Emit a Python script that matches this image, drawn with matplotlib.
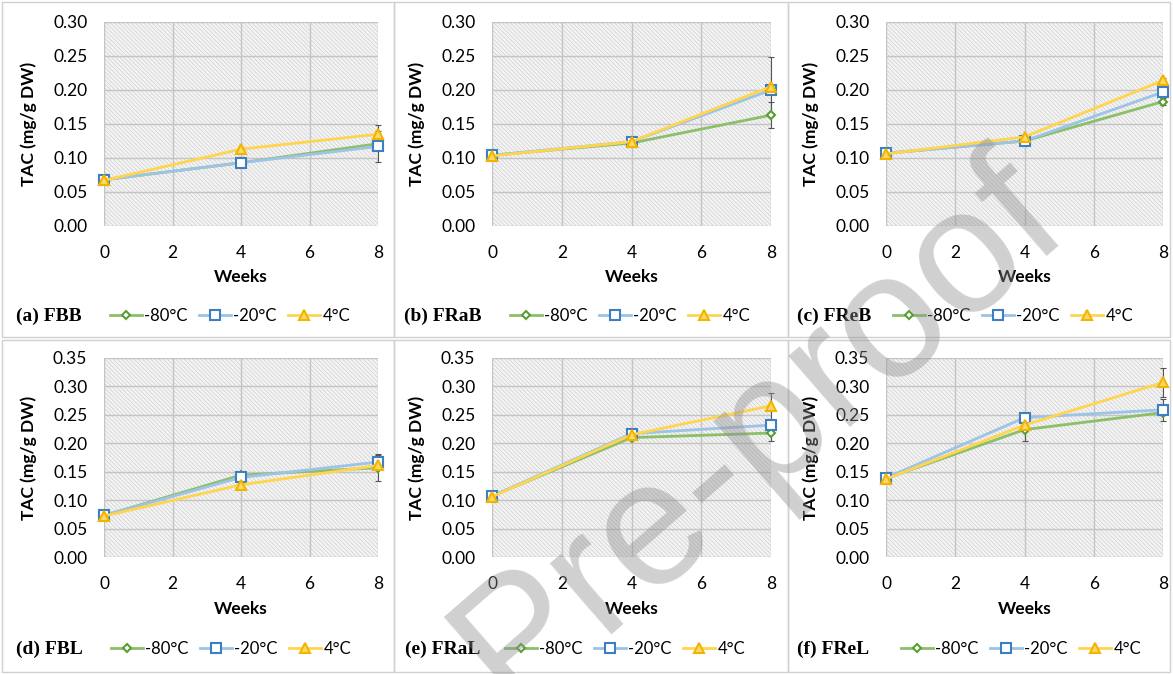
import matplotlib
matplotlib.use('Agg')
import matplotlib.pyplot as plt
from matplotlib.patches import Rectangle
from matplotlib.ticker import FormatStrFormatter

plt.rcParams['hatch.linewidth'] = 0.5
plt.rcParams['font.family'] = ['Lato', 'DejaVu Sans']

W, H = 1173, 674

weeks = [0, 4, 8]
labels = ['-80°C', '-20°C', '4°C']

# values (mg/g DW)
fbb_m80 = [0.068, 0.093, 0.121]
fbb_m20 = [0.068, 0.093, 0.117]
fbb_p4 = [0.067, 0.113, 0.135]
fbb_err = [[0.002, 0.003, 0.005], [0.002, 0.003, 0.023], [0.002, 0.003, 0.013]]

frab_m80 = [0.104, 0.122, 0.163]
frab_m20 = [0.104, 0.124, 0.200]
frab_p4 = [0.103, 0.124, 0.205]
frab_err = [[0.002, 0.003, 0.019], [0.002, 0.003, 0.006], [0.002, 0.003, 0.043]]

freb_m80 = [0.107, 0.125, 0.183]
freb_m20 = [0.107, 0.125, 0.197]
freb_p4 = [0.106, 0.131, 0.214]
freb_err = [[0.002, 0.003, 0.005], [0.002, 0.003, 0.004], [0.002, 0.003, 0.004]]

fbl_m80 = [0.073, 0.144, 0.157]
fbl_m20 = [0.073, 0.140, 0.167]
fbl_p4 = [0.072, 0.127, 0.161]
fbl_err = [[0.002, 0.004, 0.024], [0.002, 0.004, 0.013], [0.002, 0.004, 0.006]]

fral_m80 = [0.107, 0.210, 0.218]
fral_m20 = [0.107, 0.217, 0.232]
fral_p4 = [0.106, 0.215, 0.266]
fral_err = [[0.002, 0.004, 0.014], [0.002, 0.004, 0.006], [0.002, 0.004, 0.023]]

frel_m80 = [0.138, 0.224, 0.254]
frel_m20 = [0.139, 0.245, 0.259]
frel_p4 = [0.137, 0.232, 0.307]
frel_err = [[0.002, 0.020, 0.005], [0.002, 0.004, 0.019], [0.002, 0.004, 0.026]]

panels = [
    ('(a) FBB', [fbb_m80, fbb_m20, fbb_p4], fbb_err, 0.30),
    ('(b) FRaB', [frab_m80, frab_m20, frab_p4], frab_err, 0.30),
    ('(c) FReB', [freb_m80, freb_m20, freb_p4], freb_err, 0.30),
    ('(d) FBL', [fbl_m80, fbl_m20, fbl_p4], fbl_err, 0.35),
    ('(e) FRaL', [fral_m80, fral_m20, fral_p4], fral_err, 0.35),
    ('(f) FReL', [frel_m80, frel_m20, frel_p4], frel_err, 0.35),
]

# axes boxes in pixels: left, top, right, bottom
boxes = [(104, 22, 378, 226), (492, 22, 771, 226), (886, 22, 1163, 226),
         (104, 358, 378, 557), (492, 358, 771, 557), (886, 358, 1163, 557)]
label_x = [16, 404, 797, 16, 405, 797]
legend_cx = [230, 630, 1013, 231, 625, 1021]
bottom_text_y = [316, 316, 316, 649, 649, 649]

line_cols = ['#8cbf6a', '#9dc3e6', '#ffd54f']
edge_cols = ['#5a9e32', '#3d7fc1', '#f2b400']
face_cols = ['white', 'white', '#ffd966']
markers = ['D', 's', '^']
msizes = [4, 6.5, 7]

fig = plt.figure(figsize=(W / 100, H / 100), dpi=100)

# panel frames
for x0, x1 in [(2, 394), (394, 788), (788, 1170)]:
    for y0, y1 in [(2, 337), (340, 672)]:
        fig.add_artist(Rectangle((x0 / W, 1 - y1 / H), (x1 - x0) / W, (y1 - y0) / H,
                                 transform=fig.transFigure, fill=False,
                                 edgecolor='#d0d0d0', lw=1))

for i, (name, series, errs, ymax) in enumerate(panels):
    l, t, r, b = boxes[i]
    ax = fig.add_axes([l / W, 1 - b / H, (r - l) / W, (b - t) / H])
    ax.set_facecolor('#f4f4f4')
    ax.add_patch(Rectangle((0, 0), 1, 1, transform=ax.transAxes, fill=False,
                           hatch='\\' * 8, edgecolor='#cdcdcd', lw=0, zorder=0.2))
    ax.set_axisbelow(True)
    ax.grid(True, color='#c4c4c4', lw=1)
    for s in ax.spines.values():
        s.set_visible(False)

    handles = []
    for k in range(3):
        ax.errorbar(weeks, series[k], yerr=errs[k], fmt='none', ecolor='#555555',
                    elinewidth=0.8, capsize=2, capthick=0.8, zorder=2, clip_on=False)
        h, = ax.plot(weeks, series[k], color=line_cols[k], lw=2, marker=markers[k],
                     ms=msizes[k], mfc=face_cols[k], mec=edge_cols[k], mew=1.5,
                     zorder=3 + k, clip_on=False, label=labels[k])
        handles.append(h)

    ax.set_xlim(0, 8)
    ax.set_ylim(0, ymax)
    ax.set_xticks([0, 2, 4, 6, 8])
    ax.set_yticks([v / 100 for v in range(0, int(round(ymax * 100)) + 1, 5)])
    ax.yaxis.set_major_formatter(FormatStrFormatter('%.2f'))
    ax.tick_params(length=0, labelsize=12.5, pad=12)
    ax.tick_params(axis='x', pad=14)

    wy = 277 if i < 3 else 609
    ax.set_xlabel('Weeks', fontsize=12.5, fontweight='bold', va='center')
    ax.xaxis.set_label_coords(0.5, (b - wy) / (b - t))
    ax.set_ylabel('TAC (mg/g DW)', fontsize=12.5, fontweight='bold', va='center')
    ax.yaxis.set_label_coords(-75 / (r - l), 0.5)

    fig.text(label_x[i] / W, 1 - bottom_text_y[i] / H, name, fontsize=14,
             fontweight='bold', family='Liberation Serif', va='center', ha='left')
    ax.legend(handles=handles, loc='center', frameon=False, ncol=3,
              bbox_to_anchor=(legend_cx[i] / W, 1 - bottom_text_y[i] / H),
              bbox_transform=fig.transFigure, fontsize=12, handlelength=1.9,
              handletextpad=0.15, columnspacing=0.7, borderpad=0)

# watermark
fig.text(510 / W, 1 - 710 / H, 'Pre-proof', fontsize=128, color='#909090', alpha=0.42,
         rotation=41, rotation_mode='anchor', ha='left', va='baseline',
         family='Liberation Sans', zorder=20)

fig.savefig('out.png', dpi=100)
